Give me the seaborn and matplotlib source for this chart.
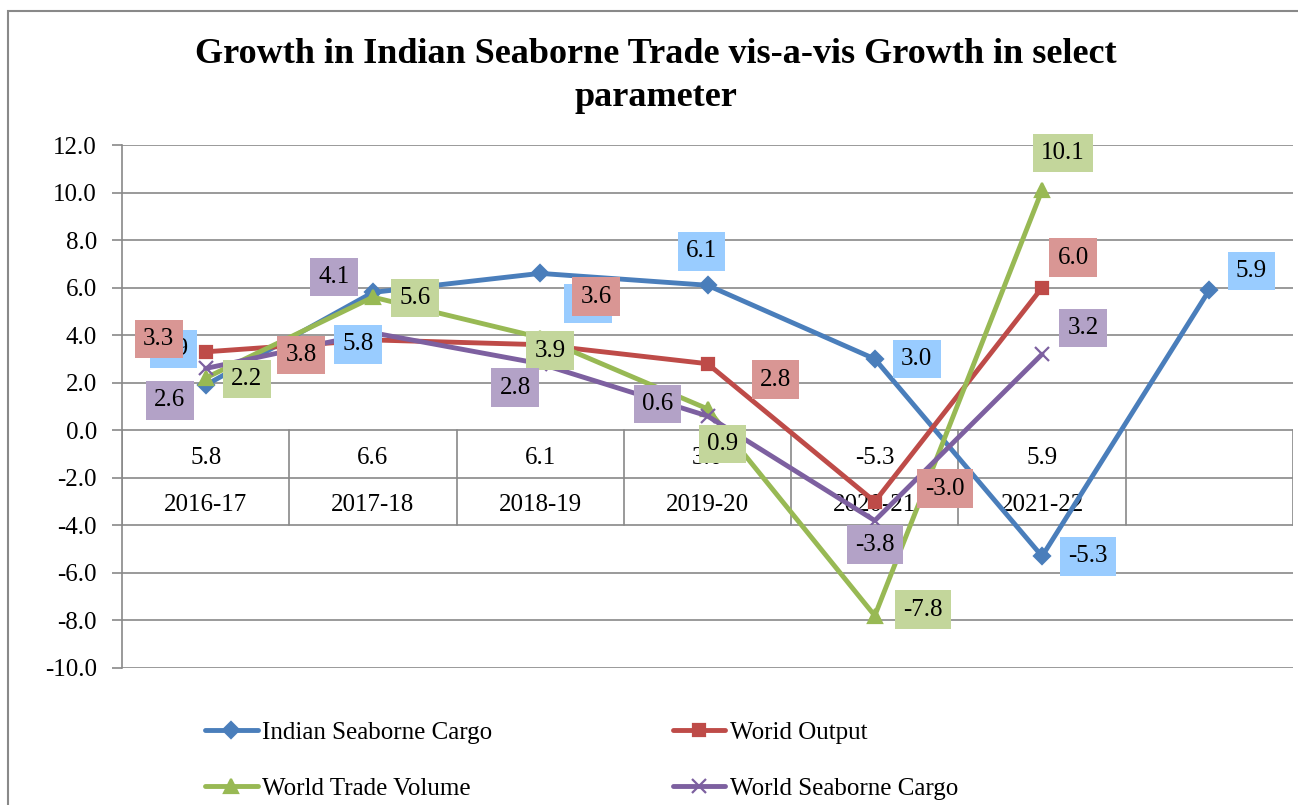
import numpy as np
import pandas as pd
import matplotlib
matplotlib.use('Agg')
import matplotlib.pyplot as plt
import matplotlib.ticker as mtick
import seaborn as sns
from matplotlib.patches import Rectangle

# dados
categorias = ['2016-17', '2017-18', '2018-19', '2019-20', '2020-21', '2021-22', '']
valores_tabela = ['5.8', '6.6', '6.1', '3.0', '-5.3', '5.9', '']

indian_cargo = [1.9, 5.8, 6.6, 6.1, 3.0, -5.3, 5.9]
world_output = [3.3, 3.8, 3.6, 2.8, -3.0, 6.0]
trade_volume = [2.2, 5.6, 3.9, 0.9, -7.8, 10.1]
world_cargo = [2.6, 4.1, 2.8, 0.6, -3.8, 3.2]

nomes = ['Indian Seaborne Cargo', 'Worid Output', 'World Trade Volume', 'World Seaborne Cargo']

# deslocamento dos rotulos (px, para baixo positivo)
off_indian = [(-32, -36), (-15, 52), (48, 30), (-6, -34), (42, 0), (46, 0), (42, -19)]
off_output = [(-47, -13), (-72, 15), (56, -48), (68, 16), (70, -13), (31, -30)]
off_trade = [(41, 1), (42, 1), (10, 13), (15, 35), (48, -6), (21, -37)]
off_cargo = [(-36, 32), (-39, -56), (-25, 24), (-50, -12), (0, 24), (41, -26)]

cor_grade = '#898989'
tam_fonte = 18

sns.set_theme(style='white')
plt.rcParams['font.family'] = ['Liberation Serif', 'DejaVu Serif']
plt.rcParams['axes.unicode_minus'] = False
plt.rcParams['text.color'] = 'black'

W, H = 1298, 805
fig = plt.figure(figsize=(W / 100, H / 100), dpi=100)
ax = fig.add_axes([122 / W, 1 - 668 / H, (1293 - 122) / W, (668 - 145) / H])

series = [
    (nomes[0], indian_cargo, '#4A7EBB', '#99CCFF', 'D', 10, off_indian),
    (nomes[1], world_output, '#BE4B48', '#D99694', 's', 11, off_output),
    (nomes[2], trade_volume, '#98B954', '#C3D69B', '^', 13, off_trade),
    (nomes[3], world_cargo, '#7D60A0', '#B3A2C7', 'x', 13, off_cargo),
]

for nome, vals, cor, fundo, marc, tam, offs in series:
    df = pd.DataFrame({'pos': np.arange(len(vals)), 'valor': vals})
    sns.lineplot(data=df, x='pos', y='valor', ax=ax, color=cor, marker=marc,
                 markersize=tam, markeredgecolor=cor, markeredgewidth=1.6,
                 linewidth=3.5, label=nome, zorder=3)

# rotulos por cima de todas as linhas
for nome, vals, cor, fundo, marc, tam, offs in series:
    for i, v in enumerate(vals):
        dx, dy = offs[i]
        ax.annotate(f'{v:.1f}', xy=(i, v), xytext=(dx, -dy), textcoords='offset pixels',
                    ha='center', va='center', fontsize=tam_fonte, color='black',
                    bbox=dict(boxstyle='square,pad=0.33', fc=fundo, ec='none'), zorder=5)

# tabela do eixo de categorias
for k in range(len(categorias) + 1):
    ax.plot([k - 0.5, k - 0.5], [0, -4], color=cor_grade, lw=1.2, zorder=1)
for i, (cat, val) in enumerate(zip(categorias, valores_tabela)):
    ax.text(i, -1.15, val, ha='center', va='center', fontsize=tam_fonte, color='black', zorder=2)
    ax.text(i, -3.15, cat, ha='center', va='center', fontsize=tam_fonte, color='black', zorder=2)

ax.set_xlim(-0.5, len(categorias) - 0.5)
ax.set_ylim(-10, 12)
ax.set_yticks(np.arange(-10, 12.1, 2))
ax.yaxis.set_major_formatter(mtick.FormatStrFormatter('%.1f'))
ax.set_xticks([])
ax.set_xlabel('')
ax.set_ylabel('')
ax.yaxis.grid(True, color=cor_grade, lw=1.2, zorder=0)
ax.xaxis.grid(False)
ax.set_axisbelow(True)
for lado in ['top', 'right', 'bottom']:
    ax.spines[lado].set_visible(False)
ax.spines['left'].set_color(cor_grade)
ax.spines['left'].set_linewidth(1.2)
ax.tick_params(axis='y', left=True, length=7, width=1.2, color=cor_grade,
               labelsize=tam_fonte, pad=11, labelcolor='black')

# legenda embaixo em duas colunas
handles, labels = ax.get_legend_handles_labels()
ax.get_legend().remove()
for h in handles:
    h.set_markersize(h.get_markersize() * 0.8)
ordem = [0, 2, 1, 3]
leg = fig.legend([handles[i] for i in ordem], [labels[i] for i in ordem], ncol=2,
                 loc='upper left', bbox_to_anchor=(205 / W, 1 - 721 / H), frameon=False,
                 fontsize=tam_fonte, handlelength=2.1, handletextpad=0.2, columnspacing=7.2,
                 labelspacing=1.35, borderaxespad=0, borderpad=0)
for t in leg.get_texts():
    t.set_color('black')

fig.text(656 / W, 1 - 76 / H, 'Growth in Indian Seaborne Trade vis-a-vis Growth in select\nparameter',
         ha='center', va='center', fontsize=26, fontweight='bold', color='black', linespacing=1.4)

# moldura da area do grafico
fig.add_artist(Rectangle((8 / W, -0.1), 1.0, 1 - 11 / H + 0.1, transform=fig.transFigure,
                         fill=False, edgecolor=cor_grade, lw=1.5))

fig.savefig('out.png', dpi=100)
